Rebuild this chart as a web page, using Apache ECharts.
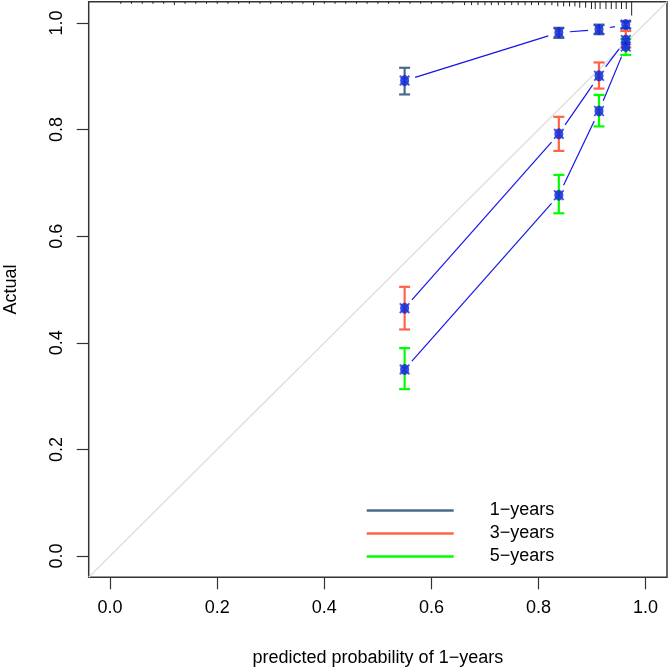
<!DOCTYPE html>
<html>
<head>
<meta charset="utf-8">
<title>Calibration</title>
<script src="https://cdn.jsdelivr.net/npm/echarts@6/dist/echarts.min.js"></script>
<style>
  html, body { margin: 0; padding: 0; background: #fff; }
  #chart { width: 669px; height: 671px; }
</style>
</head>
<body>
<div id="chart"></div>
<script>
// predicted probability (shared x for all three groups)
const predicted = [0.550, 0.838, 0.913, 0.963];

// observed values and error bars
const actual1 = [0.892, 0.982, 0.988, 0.997];
const lower1  = [0.866, 0.972, 0.979, 0.990];
const upper1  = [0.916, 0.991, 0.997, 1.003];

const actual3 = [0.465, 0.792, 0.901, 0.968];
const lower3  = [0.425, 0.760, 0.877, 0.954];
const upper3  = [0.505, 0.824, 0.926, 0.985];

const actual5 = [0.350, 0.677, 0.835, 0.956];
const lower5  = [0.313, 0.643, 0.806, 0.940];
const upper5  = [0.390, 0.715, 0.865, 0.970];

const groupNames = ['1−years', '3−years', '5−years'];
const groupColors = ['#4A6B8A', '#FF6347', '#00FF00'];

// tick positions on both axes
const tickValues = [0, 0.2, 0.4, 0.6, 0.8, 1.0];

// rug of predicted values along the top (value, relative frequency)
const rugX = [0.02, 0.04, 0.06, 0.08, 0.10, 0.12, 0.14, 0.16, 0.18, 0.20,
              0.22, 0.24, 0.26, 0.28, 0.30, 0.32, 0.34, 0.36, 0.38, 0.40,
              0.42, 0.44, 0.46, 0.48, 0.50, 0.52, 0.54, 0.56, 0.58, 0.60,
              0.62, 0.64, 0.662, 0.675, 0.687, 0.70, 0.712, 0.725, 0.737, 0.75,
              0.762, 0.775, 0.787, 0.80, 0.812, 0.825, 0.836, 0.847, 0.858, 0.868,
              0.877, 0.888, 0.899, 0.906, 0.915, 0.926, 0.936, 0.945, 0.955, 0.964, 0.974];
const rugN = [1, 1, 1, 1, 1, 2, 1, 1, 1, 1,
              1, 1, 1, 1, 1, 1, 1, 1, 2, 1,
              1, 1, 1, 1, 1, 1, 1, 1, 1, 1,
              1, 1, 2, 2, 2, 2, 2, 2, 2, 2,
              2, 2, 2, 2, 2, 2, 3, 3, 3, 3,
              4, 4, 5, 5, 5, 5, 5, 5, 5, 5, 10];

const axisPad = 0.04;   // R extends the plot range by 4%
const font = 'Liberation Sans, Arial, Helvetica, sans-serif';

const chart = echarts.init(document.getElementById('chart'));

function zip(xs, ys) {
    return xs.map((x, i) => [x, ys[i]]);
}

// error bars: vertical stroke plus caps
function errorBarItem(params, api) {
    const top = api.coord([api.value(0), api.value(2)]);
    const bot = api.coord([api.value(0), api.value(1)]);
    const w = 5.5;
    const style = { stroke: api.visual('color'), lineWidth: 2.2 };
    return {
        type: 'group',
        children: [
            { type: 'line', shape: { x1: top[0], y1: top[1], x2: bot[0], y2: bot[1] }, style },
            { type: 'line', shape: { x1: top[0] - w, y1: top[1], x2: top[0] + w, y2: top[1] }, style },
            { type: 'line', shape: { x1: bot[0] - w, y1: bot[1], x2: bot[0] + w, y2: bot[1] }, style }
        ]
    };
}

// connecting lines with a gap round each point (R type = "b")
function gapSegmentItem(params, api) {
    const a = api.coord([api.value(0), api.value(1)]);
    const b = api.coord([api.value(2), api.value(3)]);
    const dx = b[0] - a[0], dy = b[1] - a[1];
    const len = Math.sqrt(dx * dx + dy * dy);
    const gap = 11;
    if (len <= gap * 2) return null;
    const ux = dx / len, uy = dy / len;
    return {
        type: 'line',
        shape: {
            x1: a[0] + ux * gap, y1: a[1] + uy * gap,
            x2: b[0] - ux * gap, y2: b[1] - uy * gap
        },
        style: { stroke: '#1515E8', lineWidth: 1.2 }
    };
}

const crossPath = 'path://M0,1.2L1.2,0L5,3.8L8.8,0L10,1.2L6.2,5L10,8.8L8.8,10L5,6.2L1.2,10L0,8.8L3.8,5Z';

const groups = [
    { actual: actual1, lower: lower1, upper: upper1 },
    { actual: actual3, lower: lower3, upper: upper3 },
    { actual: actual5, lower: lower5, upper: upper5 }
];

const series = [];

// frame of the plot region
series.push({
    type: 'custom',
    name: 'box',
    silent: true,
    clip: false,
    z: 1,
    data: [[-axisPad, -axisPad, 1 + axisPad, 1 + axisPad]],
    renderItem: (params, api) => {
        const p1 = api.coord([api.value(0), api.value(3)]);
        const p2 = api.coord([api.value(2), api.value(1)]);
        return {
            type: 'rect',
            shape: { x: p1[0], y: p1[1], width: p2[0] - p1[0], height: p2[1] - p1[1] },
            style: { fill: null, stroke: '#333', lineWidth: 1.5 }
        };
    }
});

// reference diagonal
series.push({
    type: 'line',
    name: 'ideal',
    silent: true,
    clip: false,
    symbol: 'none',
    z: 1,
    data: [[-axisPad, -axisPad], [1 + axisPad, 1 + axisPad]],
    lineStyle: { color: '#DDDDDD', width: 1.2 }
});

// rug at the top
series.push({
    type: 'custom',
    name: 'rug',
    silent: true,
    clip: false,
    z: 2,
    data: zip(rugX, rugN),
    renderItem: (params, api) => {
        const p = api.coord([api.value(0), 1 + axisPad]);
        return {
            type: 'line',
            shape: { x1: p[0], y1: p[1], x2: p[0], y2: p[1] + api.value(1) * 1.3 + 0.8 },
            style: { stroke: '#222', lineWidth: 1 }
        };
    }
});

groups.forEach((g, k) => {
    const segs = [];
    for (let i = 0; i < predicted.length - 1; i++) {
        segs.push([predicted[i], g.actual[i], predicted[i + 1], g.actual[i + 1]]);
    }
    series.push({
        type: 'custom',
        name: 'seg' + k,
        silent: true,
        clip: false,
        z: 3,
        data: segs,
        renderItem: gapSegmentItem
    });
    series.push({
        type: 'custom',
        name: groupNames[k],
        clip: false,
        z: 4,
        itemStyle: { color: groupColors[k] },
        data: predicted.map((x, i) => [x, g.lower[i], g.upper[i]]),
        renderItem: errorBarItem
    });
    series.push({
        type: 'scatter',
        name: 'pt' + k,
        clip: false,
        z: 5,
        symbol: 'circle',
        symbolSize: [9, 11],
        itemStyle: { color: '#0F22C8' },
        data: zip(predicted, g.actual)
    });
    series.push({
        type: 'scatter',
        name: 'x' + k,
        clip: false,
        z: 6,
        symbol: crossPath,
        symbolSize: 11,
        itemStyle: { color: '#1A36E6' },
        data: zip(predicted, g.actual)
    });
});

const tickStyle = { show: true, inside: false, length: 12, customValues: tickValues, lineStyle: { color: '#333', width: 1.2 } };

const option = {
    backgroundColor: '#ffffff',
    animation: false,
    grid: { left: 88.7, right: 2, top: 1.7, bottom: 93.7, outerBoundsMode: 'none', containLabel: false },
    legend: {
        data: groupNames,
        orient: 'vertical',
        left: 361.7,
        top: 494,
        icon: 'rect',
        itemWidth: 87,
        itemHeight: 2.5,
        itemGap: 0,
        selectedMode: false,
        textStyle: {
            fontFamily: font,
            fontSize: 18,
            color: '#000',
            lineHeight: 23,
            padding: [0, 0, 0, 31]
        }
    },
    xAxis: {
        type: 'value',
        min: -axisPad,
        max: 1 + axisPad,
        name: 'predicted probability of 1−years',
        nameLocation: 'middle',
        nameGap: 72,
        nameTextStyle: { fontFamily: font, fontSize: 18, color: '#000' },
        axisLine: { show: false, onZero: false },
        axisTick: tickStyle,
        axisLabel: {
            margin: 22,
            customValues: tickValues,
            fontFamily: font,
            fontSize: 18,
            color: '#000',
            formatter: v => v.toFixed(1)
        },
        splitLine: { show: false }
    },
    yAxis: {
        type: 'value',
        min: -axisPad,
        max: 1 + axisPad,
        name: 'Actual',
        nameLocation: 'middle',
        nameGap: 69,
        nameTextStyle: { fontFamily: font, fontSize: 18, color: '#000' },
        axisLine: { show: false, onZero: false },
        axisTick: tickStyle,
        axisLabel: {
            margin: 23,
            rotate: 90,
            customValues: tickValues,
            fontFamily: font,
            fontSize: 18,
            color: '#000',
            formatter: v => v.toFixed(1)
        },
        splitLine: { show: false }
    },
    series: series
};

chart.setOption(option);
</script>
</body>
</html>
